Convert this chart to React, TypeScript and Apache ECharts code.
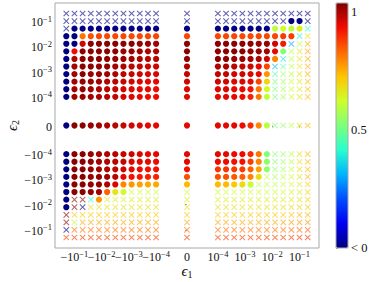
import React, { useEffect, useRef } from "react";
import * as echarts from "echarts";

// log10 of the sampled |epsilon| magnitudes (both axes use the same grid)
const magnitudeExponents = [-4, -3.7, -3.4, -3.1, -2.8, -2.5, -2.2, -1.9, -1.6, -1.3, -1.0, -0.7];
// decades labelled on both axes
const tickExponents = [-4, -3, -2, -1];
// colour bar tick values
const colorbarTicks = [0, 0.5, 1];

const N = -1; // values below zero ("< 0")

// rows from top (largest positive eps2) to bottom (most negative eps2)
// columns: 12 negative eps1 (most negative first), eps1 = 0, 12 positive eps1
const markerRows: string[] = [
  "xxxxxxxxxxxx" + "x" + "xxxxxxxxxxxx",
  "xxxxxxxxxxxx" + "x" + "xxxxxxxxxoox",
  "xooooooooooo" + "o" + "ooooooooooox",
  "oooooooooooo" + "o" + "ooooooooooxx",
  "oooooooooooo" + "o" + "oooooooooxxx",
  "oooooooooooo" + "o" + "oooooooooxxx",
  "oooooooooooo" + "o" + "ooooooooxxxx",
  "oooooooooooo" + "o" + "oooooooxxxxx",
  "oooooooooooo" + "o" + "oooooooxxxxx",
  "oooooooooooo" + "o" + "oooooooxxxxx",
  "oooooooooooo" + "o" + "oooooooxxxxx",
  "oooooooooooo" + "o" + "oooooooxxxxx",
  "oooooooooooo" + "o" + "oooooooxxxxx",
  "oooooooooooo" + "o" + "oooooooxxxxx",
  "oooooooooooo" + "o" + "oooooooxxxxx",
  "oooooooooooo" + "o" + "oooooooxxxxx",
  "oooooooooooo" + "o" + "ooooooxxxxxx",
  "oooooooooooo" + "o" + "oooooxxxxxxx",
  "ooooooooxxxx" + "x" + "xxxxxxxxxxxx",
  "oxxxoxxxxxxx" + "x" + "xxxxxxxxxxxx",
  "oxxxxxxxxxxx" + "x" + "xxxxxxxxxxxx",
  "xxxxxxxxxxxx" + "x" + "xxxxxxxxxxxx",
  "xxxxxxxxxxxx" + "x" + "xxxxxxxxxxxx",
  "xxxxxxxxxxxx" + "x" + "xxxxxxxxxxxx",
  "xxxxxxxxxxxx" + "x" + "xxxxxxxxxxxx",
];

const valueRows: number[][] = [
  [N, N, N, N, N, N, N, N, N, N, N, N, N, N, N, N, N, N, N, N, N, N, N, N, N],
  [N, N, N, N, N, N, N, N, N, N, N, N, N, N, N, N, N, N, N, N, N, N, N, N, N],
  [N, N, N, N, N, N, N, N, N, N, N, N, N, N, N, N, N, N, N, N, 0.6, 0.62, 0.6, 0.65, 0.42],
  [N, N, 0.82, 0.86, 0.87, 0.87, 0.87, 0.87, 0.87, 0.87, 0.87, 0.87, 0.87, 0.87, 0.87, 0.87, 0.87, 0.87, 0.87, 0.87, 0.87, 0.88, 0.88, 0.4, 0.68],
  [N, N, 0.97, 1.03, 1.03, 1.03, 1.03, 1.03, 1.03, 1.02, 1.02, 1.01, 1.03, 1.03, 1.03, 1.03, 1.03, 1.03, 1.02, 1.02, 0.97, 0.92, 0.3, 0.6, 0.76],
  [N, 0.94, 1.03, 1.03, 1.03, 1.03, 1.03, 1.02, 1.02, 1.01, 1.0, 1.0, 1.03, 1.03, 1.03, 1.03, 1.03, 1.02, 1.02, 1.01, 0.95, 0.53, 0.6, 0.67, 0.76],
  [N, 1.0, 1.03, 1.03, 1.03, 1.03, 1.02, 1.02, 1.01, 1.0, 0.99, 0.99, 1.02, 1.03, 1.03, 1.02, 1.02, 1.01, 1.0, 0.97, 0.8, 0.38, 0.6, 0.67, 0.76],
  [N, 1.01, 1.03, 1.03, 1.02, 1.02, 1.01, 1.0, 0.99, 0.98, 0.97, 0.97, 1.0, 1.0, 1.0, 0.99, 0.98, 0.97, 0.95, 0.87, 0.32, 0.47, 0.6, 0.67, 0.76],
  [N, 1.01, 1.03, 1.02, 1.02, 1.01, 1.0, 0.99, 0.98, 0.97, 0.96, 0.96, 0.98, 0.98, 0.98, 0.97, 0.97, 0.96, 0.95, 0.78, 0.46, 0.57, 0.6, 0.67, 0.75],
  [N, 1.01, 1.02, 1.02, 1.01, 1.0, 0.99, 0.98, 0.97, 0.96, 0.95, 0.95, 0.97, 0.97, 0.97, 0.96, 0.96, 0.95, 0.87, 0.7, 0.52, 0.57, 0.62, 0.67, 0.74],
  [N, 1.01, 1.02, 1.01, 1.0, 0.99, 0.98, 0.97, 0.96, 0.95, 0.95, 0.94, 0.96, 0.96, 0.96, 0.95, 0.95, 0.93, 0.82, 0.63, 0.52, 0.57, 0.62, 0.67, 0.74],
  [N, 1.01, 1.02, 1.01, 1.0, 0.99, 0.98, 0.97, 0.96, 0.95, 0.94, 0.94, 0.95, 0.95, 0.95, 0.95, 0.94, 0.91, 0.82, 0.61, 0.52, 0.57, 0.64, 0.68, 0.74],
  [N, 1.03, 1.03, 1.02, 1.01, 1.0, 0.99, 0.98, 0.97, 0.96, 0.95, 0.95, 0.95, 0.95, 0.95, 0.95, 0.94, 0.9, 0.8, 0.6, 0.53, 0.55, 0.6, 0.68, 0.74],
  [N, 1.03, 1.03, 1.02, 1.01, 1.0, 0.99, 0.98, 0.97, 0.96, 0.95, 0.95, 0.95, 0.95, 0.95, 0.94, 0.94, 0.9, 0.82, 0.53, 0.53, 0.55, 0.6, 0.68, 0.74],
  [N, 1.03, 1.03, 1.02, 1.01, 1.0, 0.99, 0.98, 0.96, 0.95, 0.95, 0.94, 0.95, 0.94, 0.94, 0.93, 0.93, 0.88, 0.8, 0.54, 0.53, 0.56, 0.6, 0.68, 0.74],
  [N, 1.03, 1.03, 1.02, 1.01, 1.0, 0.98, 0.97, 0.95, 0.94, 0.93, 0.93, 0.93, 0.89, 0.89, 0.88, 0.88, 0.84, 0.77, 0.55, 0.55, 0.57, 0.61, 0.68, 0.74],
  [N, 1.03, 1.03, 1.02, 1.02, 1.01, 0.99, 0.95, 0.93, 0.92, 0.91, 0.91, 0.86, 0.86, 0.86, 0.85, 0.84, 0.8, 0.69, 0.6, 0.57, 0.6, 0.63, 0.68, 0.74],
  [N, 1.03, 1.03, 1.02, 1.02, 1.0, 0.96, 0.8, 0.78, 0.77, 0.76, 0.76, 0.74, 0.74, 0.74, 0.72, 0.69, 0.61, 0.6, 0.6, 0.6, 0.61, 0.63, 0.66, 0.72],
  [N, 1.03, 1.03, 1.02, 1.01, 0.84, 0.67, 0.63, 0.62, 0.62, 0.62, 0.62, 0.62, 0.62, 0.62, 0.62, 0.62, 0.62, 0.62, 0.62, 0.62, 0.63, 0.64, 0.66, 0.7],
  [N, 1.03, 1.03, 0.42, 0.78, 0.66, 0.66, 0.66, 0.66, 0.66, 0.66, 0.66, 0.66, 0.66, 0.66, 0.66, 0.66, 0.66, 0.66, 0.66, 0.66, 0.66, 0.67, 0.68, 0.71],
  [N, 1.03, N, 0.68, 0.68, 0.68, 0.68, 0.68, 0.68, 0.68, 0.68, 0.68, 0.68, 0.68, 0.68, 0.68, 0.68, 0.68, 0.68, 0.68, 0.68, 0.68, 0.69, 0.7, 0.72],
  [1.03, 0.72, 0.72, 0.72, 0.72, 0.72, 0.72, 0.72, 0.72, 0.72, 0.72, 0.72, 0.72, 0.72, 0.72, 0.72, 0.72, 0.72, 0.72, 0.72, 0.72, 0.72, 0.73, 0.74, 0.75],
  [1.03, 0.6, 0.76, 0.76, 0.76, 0.76, 0.76, 0.76, 0.76, 0.76, 0.76, 0.76, 0.76, 0.76, 0.76, 0.76, 0.76, 0.76, 0.76, 0.76, 0.76, 0.77, 0.77, 0.78, 0.78],
  [N, 0.82, 0.82, 0.82, 0.82, 0.82, 0.82, 0.82, 0.82, 0.82, 0.82, 0.82, 0.82, 0.82, 0.82, 0.82, 0.82, 0.82, 0.82, 0.82, 0.82, 0.82, 0.83, 0.83, 0.84],
  [0.88, 0.88, 0.88, 0.88, 0.88, 0.88, 0.88, 0.88, 0.88, 0.88, 0.88, 0.88, 0.88, 0.88, 0.88, 0.88, 0.88, 0.88, 0.88, 0.88, 0.88, 0.88, 0.88, 0.89, 0.89],
];

// symmetric-log style placement: decades plus a linear gap around zero
const GAP = 1.135;
const AXIS_HALF = 4.85;
const pos = (sign: number, exp: number) => (sign === 0 ? 0 : sign * (exp + 4 + GAP));

const columns: [number, number][] = [
  ...[...magnitudeExponents].reverse().map((e) => [-1, e] as [number, number]),
  [0, 0],
  ...magnitudeExponents.map((e) => [1, e] as [number, number]),
];
const rows: [number, number][] = [
  ...[...magnitudeExponents].reverse().map((e) => [1, e] as [number, number]),
  [0, 0],
  ...magnitudeExponents.map((e) => [-1, e] as [number, number]),
];

const tickValues = [
  ...[...tickExponents].reverse().map((e) => pos(-1, e)),
  0,
  ...tickExponents.map((e) => pos(1, e)),
];
// label positions: the decade ticks plus blank end labels (keeps every decade label visible)
const labelValues = [-AXIS_HALF, ...tickValues, AXIS_HALF];

const jet = [
  "#000080", "#0000f4", "#004cff", "#00b3ff", "#29ffce", "#7dff7a",
  "#ceff29", "#ffc400", "#ff6800", "#f30a00", "#800000",
];

const FONT = "'Liberation Serif', 'DejaVu Serif', serif";

function tickLabel(v: number): string {
  if (Math.abs(Math.abs(v) - AXIS_HALF) < 1e-6) return "";
  if (Math.abs(v) < 1e-6) return "{n|0}";
  const mag = Math.abs(v) - 4 - GAP; // exponent
  const e = Math.round(mag);
  const sup = "{s|\u2212" + Math.abs(e) + "}";
  return v < 0 ? "{n|\u221210}" + sup : "{n|10}" + sup;
}

const labelRich = {
  n: { fontSize: 12, lineHeight: 14, verticalAlign: "bottom", fontFamily: FONT, color: "#111" },
  s: { fontSize: 8.5, lineHeight: 9, verticalAlign: "top", fontFamily: FONT, color: "#111" },
};

const nameRich = {
  e: { fontSize: 15, lineHeight: 16, verticalAlign: "top", fontFamily: FONT, fontStyle: "italic", color: "#111" },
  b: { fontSize: 10, lineHeight: 9, verticalAlign: "bottom", fontFamily: FONT, color: "#111" },
};

const crossPath = "path://M0,12L12,0L100,88L88,100ZM88,0L100,12L12,100L0,88Z";

export default function App() {
  const ref = useRef<HTMLDivElement>(null);
  useEffect(() => {
    document.body.style.margin = "0";
    if (!ref.current) return;
    const chart = echarts.init(ref.current, undefined, { renderer: "svg" });

    const circles: number[][] = [];
    const crosses: number[][] = [];
    rows.forEach((r, i) => {
      columns.forEach((c, j) => {
        const p = [pos(c[0], c[1]), pos(r[0], r[1]), valueRows[i][j]];
        if (markerRows[i][j] === "o") circles.push(p);
        else crosses.push(p);
      });
    });

    const axisLabelBase = {
      customValues: labelValues,
      formatter: tickLabel,
      rich: labelRich,
      hideOverlap: false,
    };

    chart.setOption({
      animation: false,
      grid: [
        { left: 55, top: 3, width: 264, height: 245, show: true, borderColor: "#a8a8a8", borderWidth: 1, backgroundColor: "transparent", outerBoundsMode: "none", containLabel: false },
        { left: 336, top: 3, width: 12, height: 245, show: true, borderColor: "#a8a8a8", borderWidth: 1, backgroundColor: "transparent", z: 10, outerBoundsMode: "none", containLabel: false },
      ],
      xAxis: [
        {
          type: "value",
          gridIndex: 0,
          min: -AXIS_HALF,
          max: AXIS_HALF,
          splitLine: { show: false },
          axisLine: { show: false },
          axisTick: { show: true, customValues: tickValues, length: 2, lineStyle: { color: "#a8a8a8" } },
          axisLabel: { ...axisLabelBase, margin: 1 },
          name: "{e|\u03f5}{b|1}",
          nameLocation: "middle",
          nameGap: 15,
          nameMoveOverlap: false,
          nameTextStyle: { rich: nameRich },
        },
        { type: "value", gridIndex: 1, show: false, min: 0, max: 1 },
      ],
      yAxis: [
        {
          type: "value",
          gridIndex: 0,
          min: -AXIS_HALF,
          max: AXIS_HALF,
          splitLine: { show: false },
          axisLine: { show: false },
          axisTick: { show: true, customValues: tickValues, length: 2, lineStyle: { color: "#a8a8a8" } },
          axisLabel: { ...axisLabelBase, margin: 3 },
          name: "{e|\u03f5}{b|2}",
          nameLocation: "middle",
          nameGap: 35,
          nameMoveOverlap: false,
          nameTextStyle: { rich: nameRich },
        },
        {
          type: "value",
          gridIndex: 1,
          position: "right",
          min: 0,
          max: 1.04,
          splitLine: { show: false },
          axisLine: { show: false },
          axisTick: { show: true, customValues: colorbarTicks, length: 2, lineStyle: { color: "#a8a8a8" } },
          axisLabel: {
            customValues: colorbarTicks,
            formatter: (v: number) => (v === 0 ? "< 0" : String(v)),
            fontFamily: FONT,
            fontSize: 12.5,
            color: "#111",
            margin: 3,
            hideOverlap: false,
            showMinLabel: true,
            showMaxLabel: true,
          },
        },
      ],
      visualMap: {
        type: "continuous",
        min: 0,
        max: 1.04,
        dimension: 2,
        seriesIndex: [0, 1],
        inRange: { color: jet },
        outOfRange: { color: "#000080" },
        calculable: false,
        hoverLink: false,
        orient: "vertical",
        left: 336,
        top: 3,
        itemWidth: 12,
        itemHeight: 245,
        padding: 0,
        show: true,
      },
      series: [
        {
          type: "scatter",
          xAxisIndex: 0,
          yAxisIndex: 0,
          symbol: "circle",
          symbolSize: 6.2,
          data: circles,
          itemStyle: { opacity: 1 },
        },
        {
          type: "scatter",
          xAxisIndex: 0,
          yAxisIndex: 0,
          symbol: crossPath,
          symbolSize: 6.2,
          data: crosses,
          itemStyle: { opacity: 0.62 },
        },
      ],
    });
    return () => chart.dispose();
  }, []);
  return <div ref={ref} style={{ width: 374, height: 282 }} />;
}
